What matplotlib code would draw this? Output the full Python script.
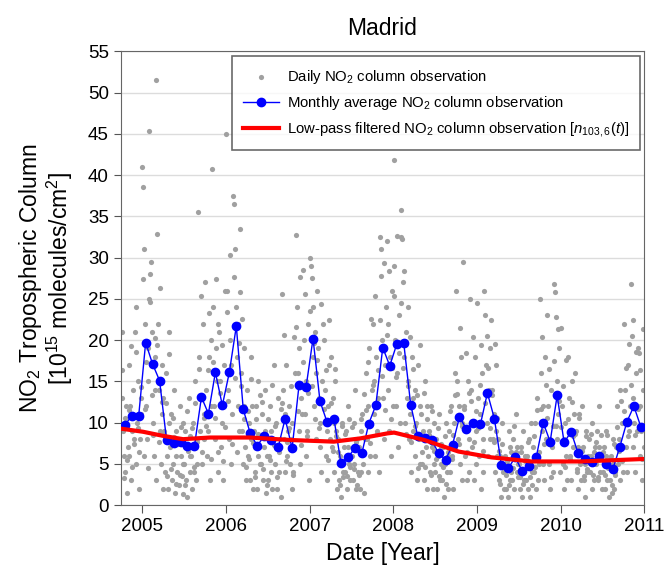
import numpy as np
import matplotlib
matplotlib.use("Agg")
import matplotlib.pyplot as plt

plt.rcParams['font.family'] = ['Liberation Sans', 'DejaVu Sans']
plt.rcParams['mathtext.fontset'] = 'custom'
plt.rcParams['mathtext.rm'] = 'Liberation Sans'
plt.rcParams['mathtext.it'] = 'Liberation Sans:italic'

# monthly means, Oct 2004 .. Dec 2010
start_year, start_month = 2004, 10
monthly = [9.7, 10.8, 10.8, 19.7, 17.1, 15.1, 7.9, 7.5, 7.6, 7.2, 7.2, 13.1,
           11.1, 16.1, 12.1, 16.1, 21.7, 11.6, 8.7, 7.2, 8.4, 7.9, 7.0, 10.5,
           6.9, 14.6, 14.3, 20.2, 12.6, 10.1, 10.5, 5.1, 5.8, 6.9, 6.3, 9.9,
           12.1, 19.1, 16.9, 19.5, 19.7, 12.2, 8.4, 8.1, 7.9, 6.3, 5.5, 7.3,
           10.7, 9.2, 10.0, 9.8, 13.6, 10.5, 4.9, 4.5, 5.8, 4.1, 4.7, 5.8,
           10.0, 7.7, 13.3, 7.6, 8.9, 6.3, 5.6, 5.2, 6.0, 5.0, 4.4, 7.1,
           10.1, 12.0, 9.5]

# daily observations, grouped per month (same months as above)
daily = [
    [21, 13, 9, 6, 4, 12, 1.5, 7],
    [17, 6, 12, 3, 9, 14, 8, 21],
    [24, 5, 10, 15, 2, 8, 13, 11],
    [41, 38.6, 31, 22, 12, 8, 19, 15, 25, 6],
    [45.3, 28, 29.5, 21, 10, 6, 14, 18, 3],
    [51.5, 32.9, 22, 14, 9, 5, 11, 17, 2],
    [13, 9, 4, 16, 6, 2, 10, 21],
    [7, 11, 3, 5, 14, 1.5, 9, 6],
    [4, 8, 2.5, 12, 6, 3.5, 10, 5],
    [5, 9, 3, 1, 7, 13, 4, 6],
    [6, 2, 10, 4, 15, 3, 8, 5],
    [35.5, 18, 9, 13, 5, 22, 11, 8],
    [27, 14, 6, 9, 18, 3, 12, 20],
    [40.8, 24, 12, 8, 19, 15, 4, 22],
    [21, 15, 7, 10, 3, 17, 12, 26],
    [45, 26, 14, 8, 20, 5, 17, 11],
    [37.5, 36.5, 31, 24, 18, 12, 22, 9, 33.5],
    [25.8, 16, 9, 5, 12, 19, 7, 3],
    [14, 6, 10, 3, 18, 8, 12, 2],
    [9, 4, 12, 2, 6, 15, 7, 5],
    [5, 11, 3, 7, 14, 9, 1.5, 6],
    [3, 6, 12, 4, 9, 2, 8, 17],
    [5, 10, 2, 7, 13, 4, 8, 1],
    [25.6, 14, 8, 4, 11, 17, 6, 9],
    [12, 5, 8, 2, 10, 4, 7, 16],
    [32.8, 24, 16, 9, 19, 5, 13, 11],
    [28.5, 20, 11, 6, 15, 9, 22, 3],
    [30, 29, 27.5, 24, 18, 12, 21, 8, 16],
    [26, 19, 13, 7, 10, 4, 15, 22],
    [20, 14, 6, 9, 3, 12, 17, 8],
    [18, 7, 13, 4, 10, 15, 9, 2],
    [8, 3, 6, 1, 5, 10, 4, 7],
    [4, 9, 2, 7, 12, 5, 3, 6],
    [6, 3, 10, 5, 14, 2, 8, 4],
    [7, 2, 9, 4, 11, 5, 1.5, 8],
    [16, 8, 12, 4, 19, 6, 10, 14],
    [22, 11, 15, 6, 18, 9, 13, 4],
    [32.5, 31, 27.8, 20, 13, 8, 17, 24],
    [32, 22, 14, 9, 18, 6, 26, 12],
    [41.8, 29, 20, 12, 16, 7, 23, 10],
    [35.8, 32.5, 32.3, 27, 18, 10, 21, 13],
    [24, 15, 8, 11, 4, 18, 13, 9],
    [14, 6, 10, 3, 17, 8, 5, 12],
    [11, 5, 9, 3, 15, 7, 2, 12],
    [6, 9, 4, 12, 7, 2, 10, 5],
    [4, 8, 2, 6, 11, 3, 7, 5],
    [3, 7, 1, 5, 10, 4, 6, 2],
    [9, 4, 12, 6, 2, 10, 7, 16],
    [26, 15, 8, 12, 5, 18, 10, 3],
    [29.5, 12, 6, 9, 3, 15, 8, 4],
    [25, 14, 7, 10, 3, 18, 9, 5],
    [24.5, 13, 6, 11, 2, 16, 8, 4],
    [26, 23, 17, 10, 6, 14, 19, 8],
    [22.5, 14, 8, 11, 4, 17, 9, 6],
    [8, 3, 6, 1, 10, 4, 5, 2],
    [6, 2, 5, 1, 9, 3, 7, 4],
    [3, 8, 2, 6, 11, 4, 7, 5],
    [5, 2, 7, 1, 4, 9, 3, 6],
    [3, 6, 2, 8, 1, 5, 10, 4],
    [7, 4, 10, 2, 6, 13, 3, 5],
    [25, 16, 9, 5, 12, 3, 18, 8],
    [23, 12, 5, 8, 2, 14, 7, 4],
    [26.8, 25.8, 22.8, 15, 8, 11, 19, 4],
    [21.5, 12, 5, 8, 2, 10, 6, 3],
    [18, 13, 6, 9, 3, 15, 7, 11],
    [16, 9, 4, 7, 2, 11, 5, 3],
    [12, 7, 3, 5, 1, 9, 4, 6],
    [8, 4, 6, 2, 10, 5, 3, 7],
    [5, 9, 3, 7, 12, 4, 6, 2],
    [4, 7, 2, 6, 9, 3, 5, 1],
    [3, 6, 1.5, 5, 8, 2, 4, 7],
    [12, 5, 8, 3, 14, 7, 10, 4],
    [22, 14, 7, 10, 4, 17, 9, 12],
    [26.8, 20.5, 13, 7, 10, 4, 16, 9],
    [19, 18.5, 12, 6, 9, 3, 14, 7],
]
obs_days = [2, 6, 10, 14, 17, 21, 25, 28, 30, 8]

# further daily observations, four per month
daily_extra = [
    [16.4, 3.3, 10.6, 5.5], [11.5, 19.3, 4.6, 7.4], [18.6, 9.4, 6.5, 14.3],
    [27.4, 11.6, 17.3, 4.5], [24.6, 13.4, 8.5, 20.3], [19.4, 7.6, 26.3, 12.5],
    [8.6, 12.4, 3.5, 18.3], [4.4, 10.6, 8.3, 2.6], [7.4, 3.6, 9.5, 1.3],
    [2.5, 11.4, 6.6, 8.4], [9.4, 4.6, 12.4, 7.6], [16.5, 25.3, 6.4, 10.6],
    [9.6, 16.4, 23.3, 5.6], [17.4, 10.6, 27.4, 6.5], [13.6, 19.4, 5.3, 9.5],
    [23.4, 12.6, 30.3, 7.4], [27.6, 15.4, 6.5, 19.6], [14.4, 22.6, 10.4, 4.6],
    [11.4, 5.6, 15.3, 7.5], [3.4, 10.5, 8.6, 13.4], [12.5, 4.4, 8.6, 2.4],
    [10.4, 5.5, 14.6, 7.3], [9.6, 3.4, 6.4, 11.6], [12.4, 20.6, 5.4, 7.6],
    [9.3, 14.5, 3.6, 20.4], [21.6, 11.4, 27.6, 7.3], [17.4, 25.6, 8.4, 13.6],
    [23.5, 14.4, 19.6, 10.4], [17.6, 9.4, 24.4, 12.6], [11.6, 16.4, 5.5, 22.4],
    [12.4, 6.6, 16.5, 8.4], [6.5, 2.4, 9.6, 3.4], [8.6, 3.5, 10.4, 4.6],
    [9.5, 4.4, 7.6, 2.5], [3.6, 10.4, 6.4, 13.5], [11.5, 17.4, 7.5, 22.6],
    [14.6, 25.4, 8.6, 16.4], [22.4, 15.6, 29.4, 11.5], [20.6, 28.4, 10.5, 16.6],
    [25.4, 15.5, 32.6, 18.4], [24.5, 16.6, 28.4, 8.6], [14.5, 20.4, 7.6, 16.5],
    [9.6, 13.4, 4.5, 19.4], [6.4, 13.6, 4.6, 10.5], [8.5, 3.6, 11.4, 6.6],
    [5.6, 9.4, 3.5, 7.4], [4.6, 8.4, 2.6, 6.5], [11.4, 5.6, 8.5, 13.4],
    [13.5, 7.4, 21.5, 9.6], [11.6, 18.4, 6.5, 13.6], [12.6, 20.4, 7.6, 11.4],
    [9.4, 14.6, 19.4, 6.6], [12.4, 20.5, 16.6, 9.4], [13.4, 7.6, 19.5, 10.6],
    [6.6, 2.6, 7.4, 4.5], [3.6, 5.4, 2.4, 6.5], [4.5, 9.6, 6.4, 3.4],
    [3.4, 6.5, 2.6, 5.4], [5.5, 7.6, 3.4, 2.4], [8.4, 4.6, 11.5, 6.4],
    [11.6, 20.4, 7.4, 14.6], [10.6, 16.5, 3.4, 9.6], [17.5, 9.6, 21.4, 12.6],
    [9.5, 14.4, 4.6, 17.6], [10.4, 5.6, 12.5, 8.4], [8.6, 4.4, 10.6, 6.4],
    [6.6, 3.5, 8.4, 4.4], [5.4, 8.6, 3.6, 6.5], [7.6, 3.4, 5.6, 8.5],
    [6.4, 3.6, 8.5, 4.5], [5.6, 2.5, 7.4, 3.6], [9.5, 6.6, 12.6, 5.4],
    [11.4, 16.6, 8.4, 19.5], [14.6, 22.4, 8.5, 18.6], [11.6, 16.4, 5.6, 21.4],
]
extra_days = [4, 12, 19, 26]

lp_t = [2004.73, 2005.01, 2005.25, 2005.49, 2005.81, 2006.29, 2006.77, 2007.29,
        2007.61, 2007.93, 2008.01, 2008.13, 2008.37, 2008.78, 2009.17, 2009.65,
        2010.25, 2011.0]
lp_v = [9.3, 8.9, 8.4, 8.0, 8.2, 8.2, 7.9, 7.7, 8.1, 8.7, 8.8, 8.5, 7.9, 6.5,
        5.8, 5.3, 5.3, 5.6]

month_start = [start_year + (start_month - 1 + i) / 12 for i in range(len(monthly))]
month_mid = [m + 0.5 / 12 for m in month_start]

day_t, day_v = [], []
for m0, vals, extra in zip(month_start, daily, daily_extra):
    for d, v in zip(obs_days, vals):
        day_t.append(m0 + (d - 0.5) / 365.25)
        day_v.append(v)
    for d, v in zip(extra_days, extra):
        day_t.append(m0 + (d - 0.5) / 365.25)
        day_v.append(v)

fig = plt.figure(figsize=(6.67, 5.78), dpi=100)
ax = fig.add_axes([0.181, 0.126, 0.785, 0.785])

ax.scatter(day_t, day_v, s=14, color='#a0a0a0', linewidths=0, zorder=2,
           label='Daily NO$_2$ column observation')
ax.plot(month_mid, monthly, color='#0000ff', lw=1, marker='o', ms=6,
        zorder=3, label='Monthly average NO$_2$ column observation')
ax.plot(lp_t, lp_v, color='#ff0000', lw=3, zorder=4,
        label='Low-pass filtered NO$_2$ column observation [$\\it{n}_{103,6}(\\it{t})$]')

ax.set_xlim(2004.744, 2011.0)
ax.set_ylim(0, 55)
ax.set_xticks(range(2005, 2012))
ax.set_yticks(range(0, 56, 5))
ax.yaxis.grid(True, color='#dcdcdc', lw=1)
ax.set_axisbelow(True)
ax.tick_params(axis='both', labelsize=13.5, color='#555555', direction='out')
ax.tick_params(axis='x', length=6)
ax.tick_params(axis='y', length=5)
for s in ax.spines.values():
    s.set_color('#666666')

ax.set_title('Madrid', fontsize=16.5, pad=12)
ax.set_xlabel('Date [Year]', fontsize=16.5, labelpad=5)
ax.set_ylabel('NO$_2$ Tropospheric Column\n[10$^{15}$ molecules/cm$^2$]',
              fontsize=16.5, labelpad=9, linespacing=1.05)

leg = ax.legend(loc='upper right', fontsize=10.7, frameon=True, fancybox=False,
                edgecolor='#444444', borderpad=0.75, handlelength=2.4,
                handletextpad=0.55, labelspacing=0.55, borderaxespad=0,
                bbox_to_anchor=(0.992, 0.989))
leg.get_frame().set_linewidth(1.2)

fig.savefig('out.png', dpi=100)
